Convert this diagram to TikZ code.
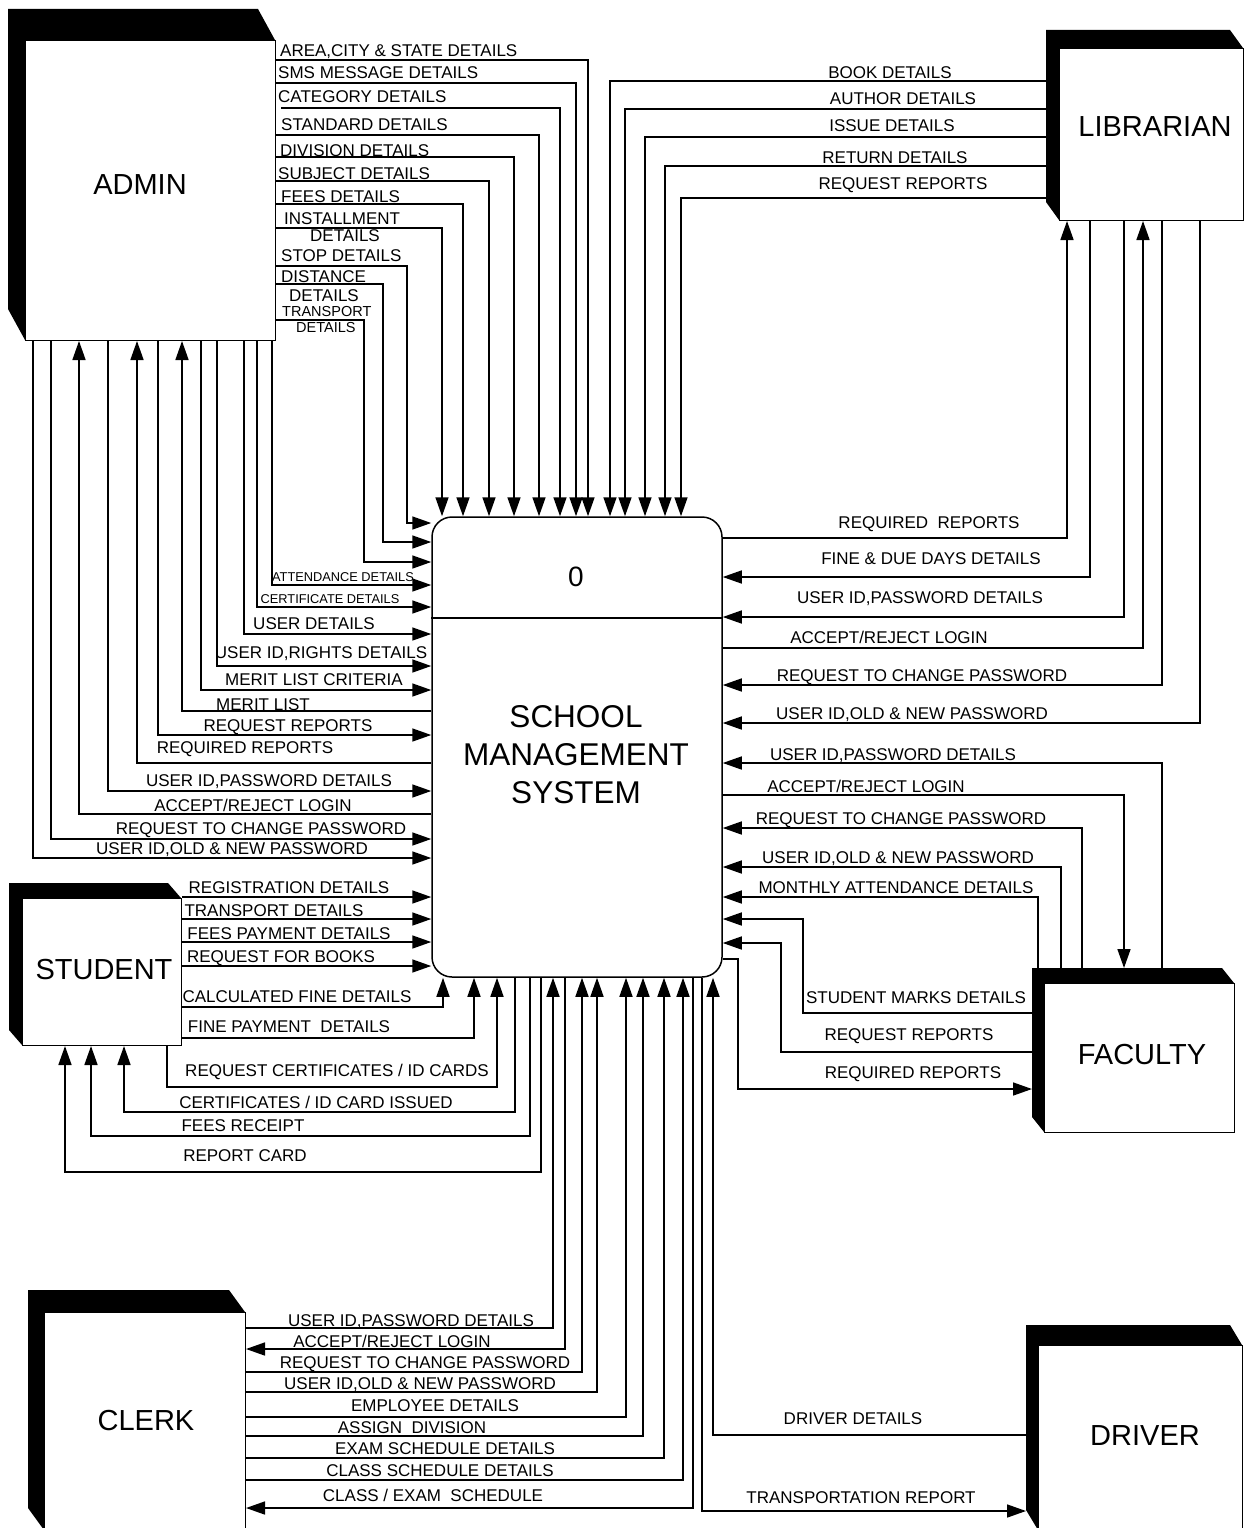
\documentclass[tikz,border=0pt]{standalone}
\usepackage{fontspec}
\setmainfont{Liberation Sans}
\usetikzlibrary{arrows.meta}
\newcommand\threedbox[7]{%
  \fill ({#2-#6},{#3-#7}) -- ({#4-#6},{#3-#7}) -- (#4,#3) -- (#2,#3) -- (#2,#5) -- ({#2-#6},{#5-#7}) -- cycle;
  \node[ent, anchor=north west, minimum width={#4-#2}, minimum height={#5-#3}] (#1) at (#2,#3) {};}
\begin{document}
\begin{tikzpicture}[x=1pt,y=-1pt,
  ar/.style={line width=1.6pt,-{Triangle[length=19pt,width=13pt]}},
  lbl/.style={font=\fontsize{17}{17}\selectfont,inner sep=0pt,text height=12.2pt,text depth=0pt},
  sml/.style={font=\fontsize{12.8}{12.8}\selectfont,inner sep=0pt,text height=9.2pt,text depth=0pt},
  tsml/.style={font=\fontsize{14.5}{14.5}\selectfont,inner sep=0pt,text height=10.4pt,text depth=0pt},
  ent/.style={draw,line width=1pt,fill=white,inner sep=0pt},
  big/.style={font=\fontsize{29}{29}\selectfont,inner sep=0pt}]
\useasboundingbox[fill=white] (0,0) rectangle (1245,1528);

% ---------- entities ----------
\threedbox{admin}{25}{40}{275}{340}{17}{31}
\threedbox{librarian}{1059}{48}{1243}{220}{13}{18}
\threedbox{student}{22}{898}{181}{1045}{13}{15}
\threedbox{faculty}{1044}{983}{1234}{1132}{12}{15}
\threedbox{clerk}{44}{1312}{245}{1530}{16}{22}
\threedbox{driver}{1038}{1345}{1242}{1530}{12}{20}
\node[big] (tadmin) at (140,185) {ADMIN};
\node[big] (tlib) at (1155,127) {LIBRARIAN};
\node[big] (tstud) at (104,970) {STUDENT};
\node[big] (tfac) at (1142,1055) {FACULTY};
\node[big] (tclerk) at (146,1420) {CLERK};
\node[big] (tdriver) at (1145,1436) {DRIVER};

% ---------- process ----------
\node[draw, line width=1.5pt, rounded corners=20pt, minimum width=290, minimum height=460, inner sep=0] (sys) at (577,747) {};
\draw[line width=1.5pt] (sys.west |- 0,618) -- (sys.east |- 0,618);
\node[font=\fontsize{28}{28}\selectfont] (pnum) at (576,577) {0};
\node[font=\fontsize{31.5}{38}\selectfont, align=center] (pname) at (576,755) {SCHOOL\\MANAGEMENT\\SYSTEM};

% ---------- admin top flows ----------
\draw[ar] (admin.east |- 0,60) -| (sys.north -| 588,0);
\draw[ar] (admin.east |- 0,83) -| (sys.north -| 576,0);
\draw[ar] (281,108) -| (sys.north -| 560,0);
\draw[ar] (admin.east |- 0,135) -| (sys.north -| 539,0);
\draw[ar] (admin.east |- 0,157) -| (sys.north -| 514,0);
\draw[ar] (admin.east |- 0,181) -| (sys.north -| 489,0);
\draw[ar] (admin.east |- 0,204) -| (sys.north -| 463,0);
\draw[ar] (admin.east |- 0,228) -| (sys.north -| 442,0);
\draw[ar] (admin.east |- 0,266) -| (407,523) -- (sys.west |- 0,523);
\draw[ar] (admin.east |- 0,284) -| (383,542) -- (sys.west |- 0,542);
\draw[ar] (admin.east |- 0,320) -| (364,562) -- (sys.west |- 0,562);

\node[lbl,anchor=west] (a1) at (280,50) {AREA,CITY \& STATE DETAILS};
\node[lbl,anchor=west] (a2) at (278,72) {SMS MESSAGE DETAILS};
\node[lbl,anchor=west] (a3) at (278,96) {CATEGORY DETAILS};
\node[lbl,anchor=west] (a4) at (281,124) {STANDARD DETAILS};
\node[lbl,anchor=west] (a5) at (280,150) {DIVISION DETAILS};
\node[lbl,anchor=west] (a6) at (278,173) {SUBJECT DETAILS};
\node[lbl,anchor=west] (a7) at (281,196) {FEES DETAILS};
\node[lbl,anchor=west] (a8) at (284,218) {INSTALLMENT};
\node[lbl,anchor=west] (a8b) at (310,235) {DETAILS};
\node[lbl,anchor=west] (a9) at (281,255) {STOP DETAILS};
\node[lbl,anchor=west] (a10) at (281,276) {DISTANCE};
\node[lbl,anchor=west] (a10b) at (289,295) {DETAILS};
\node[tsml,anchor=west] (a11) at (282,311) {TRANSPORT};
\node[tsml,anchor=west] (a11b) at (296,327) {DETAILS};

% ---------- admin bottom flows ----------
\draw[ar] (admin.south -| 272,0) |- (sys.west |- 0,585);
\draw[ar] (admin.south -| 257,0) |- (sys.west |- 0,607);
\draw[ar] (admin.south -| 244,0) |- (sys.west |- 0,634);
\draw[ar] (admin.south -| 217,0) |- (sys.west |- 0,666);
\draw[ar] (admin.south -| 201,0) |- (sys.west |- 0,690);
\draw[ar] (sys.west |- 0,711) -| (admin.south -| 182,0);
\draw[ar] (admin.south -| 158,0) |- (sys.west |- 0,735);
\draw[ar] (sys.west |- 0,763) -| (admin.south -| 137,0);
\draw[ar] (admin.south -| 108,0) |- (sys.west |- 0,791);
\draw[ar] (sys.west |- 0,814) -| (admin.south -| 79,0);
\draw[ar] (admin.south -| 51,0) |- (sys.west |- 0,839);
\draw[ar] (admin.south -| 33,0) |- (sys.west |- 0,858);

\node[sml] (b1) at (343,577) {ATTENDANCE DETAILS};
\node[sml] (b2) at (330,599) {CERTIFICATE DETAILS};
\node[lbl] (b3) at (314,623) {USER DETAILS};
\node[lbl] (b4) at (321,652) {USER ID,RIGHTS DETAILS};
\node[lbl] (b5) at (314,679) {MERIT LIST CRITERIA};
\node[lbl] (b6) at (263,704) {MERIT LIST};
\node[lbl] (b7) at (288,725) {REQUEST REPORTS};
\node[lbl] (b8) at (245,747) {REQUIRED REPORTS};
\node[lbl] (b9) at (269,780) {USER ID,PASSWORD DETAILS};
\node[lbl] (b10) at (253,805) {ACCEPT/REJECT LOGIN};
\node[lbl] (b11) at (261,828) {REQUEST TO CHANGE PASSWORD};
\node[lbl] (b12) at (232,848) {USER ID,OLD \& NEW PASSWORD};

% ---------- student flows ----------
\draw[ar] (student.east |- 0,897) -- (sys.west |- 0,897);
\draw[ar] (student.east |- 0,919) -- (sys.west |- 0,919);
\draw[ar] (student.east |- 0,942) -- (sys.west |- 0,942);
\draw[ar] (student.east |- 0,966) -- (sys.west |- 0,966);
\draw[ar] (student.east |- 0,1007) -| (sys.south -| 443,0);
\draw[ar] (student.east |- 0,1038) -| (sys.south -| 474,0);
\draw[ar] (student.south -| 167,0) |- (497,1087) -- (sys.south -| 497,0);
\draw[ar] (sys.south -| 515,0) |- (124,1112) -- (student.south -| 124,0);
\draw[ar] (sys.south -| 530,0) |- (91,1136) -- (student.south -| 91,0);
\draw[ar] (sys.south -| 541,0) |- (65,1172) -- (student.south -| 65,0);

\node[lbl] (s1) at (289,887) {REGISTRATION DETAILS};
\node[lbl] (s2) at (274,910) {TRANSPORT DETAILS};
\node[lbl] (s3) at (289,933) {FEES PAYMENT DETAILS};
\node[lbl] (s4) at (281,956) {REQUEST FOR BOOKS};
\node[lbl] (s5) at (297,996) {CALCULATED FINE DETAILS};
\node[lbl] (s6) at (289,1026) {FINE PAYMENT\ \ DETAILS};
\node[lbl] (s7) at (337,1070) {REQUEST CERTIFICATES / ID CARDS};
\node[lbl] (s8) at (316,1102) {CERTIFICATES / ID CARD ISSUED};
\node[lbl] (s9) at (243,1125) {FEES RECEIPT};
\node[lbl] (s10) at (245,1155) {REPORT CARD};

% ---------- librarian flows ----------
\draw[ar] (1046,81) -| (sys.north -| 610,0);
\draw[ar] (1046,109) -| (sys.north -| 625,0);
\draw[ar] (1046,137) -| (sys.north -| 645,0);
\draw[ar] (1046,166) -| (sys.north -| 665,0);
\draw[ar] (1046,198) -| (sys.north -| 681,0);
\draw[ar] (sys.east |- 0,538) -| (librarian.south -| 1067,0);
\draw[ar] (librarian.south -| 1090,0) |- (sys.east |- 0,577);
\draw[ar] (librarian.south -| 1124,0) |- (sys.east |- 0,617);
\draw[ar] (sys.east |- 0,648) -| (librarian.south -| 1143,0);
\draw[ar] (librarian.south -| 1162,0) |- (sys.east |- 0,685);
\draw[ar] (librarian.south -| 1200,0) |- (sys.east |- 0,723);

\node[lbl] (l1) at (890,72) {BOOK DETAILS};
\node[lbl] (l2) at (903,98) {AUTHOR DETAILS};
\node[lbl] (l3) at (892,125) {ISSUE DETAILS};
\node[lbl] (l4) at (895,157) {RETURN DETAILS};
\node[lbl] (l5) at (903,183) {REQUEST REPORTS};
\node[lbl] (l6) at (929,522) {REQUIRED\ \ REPORTS};
\node[lbl] (l7) at (931,558) {FINE \& DUE DAYS DETAILS};
\node[lbl] (l8) at (920,597) {USER ID,PASSWORD DETAILS};
\node[lbl] (l9) at (889,637) {ACCEPT/REJECT LOGIN};
\node[lbl] (l10) at (922,675) {REQUEST TO CHANGE PASSWORD};
\node[lbl] (l11) at (912,713) {USER ID,OLD \& NEW PASSWORD};

% ---------- faculty flows ----------
\draw[ar] (1162,968) |- (sys.east |- 0,763);
\draw[ar] (sys.east |- 0,795) -| (1124,968);
\draw[ar] (1082,968) |- (sys.east |- 0,828);
\draw[ar] (1061,968) |- (sys.east |- 0,867);
\draw[ar] (1038,968) |- (sys.east |- 0,897);
\draw[ar] (1032,1013) -| (803,919) -- (sys.east |- 0,919);
\draw[ar] (1032,1052) -| (781,943) -- (sys.east |- 0,943);
\draw[ar] (sys.east |- 0,959) -| (738,1089) -- (1032,1089);

\node[lbl] (f1) at (893,754) {USER ID,PASSWORD DETAILS};
\node[lbl] (f2) at (866,786) {ACCEPT/REJECT LOGIN};
\node[lbl] (f3) at (901,818) {REQUEST TO CHANGE PASSWORD};
\node[lbl] (f4) at (898,857) {USER ID,OLD \& NEW PASSWORD};
\node[lbl] (f5) at (896,887) {MONTHLY ATTENDANCE DETAILS};
\node[lbl] (f6) at (916,997) {STUDENT MARKS DETAILS};
\node[lbl] (f7) at (909,1034) {REQUEST REPORTS};
\node[lbl] (f8) at (913,1072) {REQUIRED REPORTS};

% ---------- clerk flows ----------
\draw[ar] (clerk.east |- 0,1328) -| (sys.south -| 553,0);
\draw[ar] (sys.south -| 565,0) |- (clerk.east |- 0,1349);
\draw[ar] (clerk.east |- 0,1372) -| (sys.south -| 582,0);
\draw[ar] (clerk.east |- 0,1392) -| (sys.south -| 597,0);
\draw[ar] (clerk.east |- 0,1417) -| (sys.south -| 626,0);
\draw[ar] (clerk.east |- 0,1436) -| (sys.south -| 643,0);
\draw[ar] (clerk.east |- 0,1458) -| (sys.south -| 664,0);
\draw[ar] (clerk.east |- 0,1480) -| (sys.south -| 683,0);
\draw[ar] (sys.south -| 693,0) |- (clerk.east |- 0,1508);

\node[lbl] (c1) at (411,1320) {USER ID,PASSWORD DETAILS};
\node[lbl] (c2) at (392,1341) {ACCEPT/REJECT LOGIN};
\node[lbl] (c3) at (425,1362) {REQUEST TO CHANGE PASSWORD};
\node[lbl] (c4) at (420,1383) {USER ID,OLD \& NEW PASSWORD};
\node[lbl] (c5) at (435,1405) {EMPLOYEE DETAILS};
\node[lbl] (c6) at (412,1427) {ASSIGN\ \ DIVISION};
\node[lbl] (c7) at (445,1448) {EXAM SCHEDULE DETAILS};
\node[lbl] (c8) at (440,1470) {CLASS SCHEDULE DETAILS};
\node[lbl] (c9) at (433,1495) {CLASS / EXAM\ \ SCHEDULE};

% ---------- driver flows ----------
\draw[ar] (1026,1435) -| (sys.south -| 713,0);
\draw[ar] (sys.south -| 702,0) |- (1026,1511);
\node[lbl] (d1) at (853,1418) {DRIVER DETAILS};
\node[lbl] (d2) at (861,1497) {TRANSPORTATION REPORT};
\end{tikzpicture}
\end{document}
